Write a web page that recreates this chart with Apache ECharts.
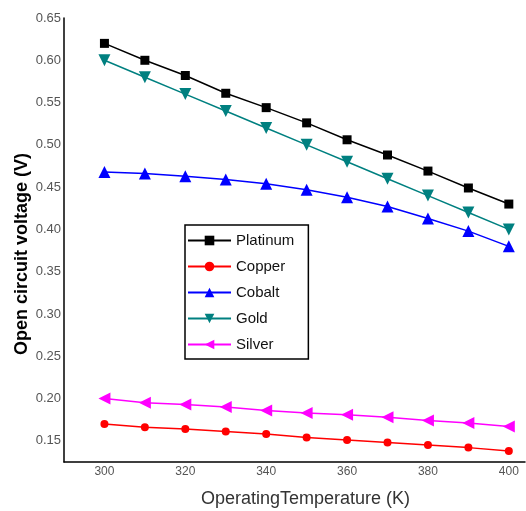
<!DOCTYPE html>
<html>
<head>
<meta charset="utf-8">
<script src="https://cdn.jsdelivr.net/npm/echarts@6/dist/echarts.min.js"></script>
<style>html,body{margin:0;padding:0;background:#fff}#c{width:526px;height:511px}</style>
</head>
<body>
<div id="c"></div>
<script>
var temperatures = [300, 310, 320, 330, 340, 350, 360, 370, 380, 390, 400];
var platinum = [0.620, 0.600, 0.582, 0.561, 0.544, 0.526, 0.506, 0.488, 0.469, 0.449, 0.430];
var copper   = [0.170, 0.166, 0.164, 0.161, 0.158, 0.154, 0.151, 0.148, 0.145, 0.142, 0.138];
var cobalt   = [0.468, 0.466, 0.463, 0.459, 0.454, 0.447, 0.438, 0.427, 0.413, 0.398, 0.380];
var gold     = [0.600, 0.580, 0.560, 0.540, 0.520, 0.500, 0.480, 0.460, 0.440, 0.420, 0.400];
var silver   = [0.200, 0.195, 0.193, 0.190, 0.186, 0.183, 0.181, 0.178, 0.174, 0.171, 0.167];
var xTickLabels = [300, 320, 340, 360, 380, 400];
var yTickLabels = ['0.15','0.20','0.25','0.30','0.35','0.40','0.45','0.50','0.55','0.60','0.65'];

function pairs(vals) { return temperatures.map(function (t, i) { return [t, vals[i]]; }); }

var chart = echarts.init(document.getElementById('c'));
function mk(name, vals, color, symbol, size, rot) {
  return {
    name: name, type: 'line', data: pairs(vals),
    symbol: symbol, symbolSize: size, symbolRotate: rot || 0,
    lineStyle: { color: color, width: 1.5 },
    itemStyle: { color: color },
    animation: false
  };
}
chart.setOption({
  animation: false,
  grid: { left: 64, right: 1, top: 18, bottom: 49, containLabel: false, outerBoundsMode: 'none' },
  xAxis: {
    type: 'value', min: 290, max: 404, interval: 10,
    name: 'OperatingTemperature (K)', nameLocation: 'middle', nameGap: 28, nameMoveOverlap: false,
    nameTextStyle: { fontSize: 18, color: '#333', fontFamily: 'Liberation Sans', padding: [0, 0, 0, 22] },
    axisLine: { lineStyle: { color: '#000', width: 1.5 } },
    axisTick: { show: false },
    splitLine: { show: false },
    axisLabel: {
      margin: 4, fontSize: 12, color: '#555', fontFamily: 'Liberation Sans',
      formatter: function (v) { return xTickLabels.indexOf(Math.round(v)) >= 0 ? String(Math.round(v)) : ''; }
    }
  },
  yAxis: {
    type: 'value', min: 0.125, max: 0.65, interval: 0.025,
    name: 'Open circuit voltage (V)', nameLocation: 'middle', nameGap: 33, nameMoveOverlap: false,
    nameTextStyle: { fontSize: 18, fontWeight: 'bold', color: '#000', fontFamily: 'Liberation Sans', padding: [0, 28, 0, 0] },
    axisLine: { show: true, lineStyle: { color: '#000', width: 1.5 } },
    axisTick: { show: false },
    splitLine: { show: false },
    axisLabel: {
      margin: 3, fontSize: 13, color: '#555', fontFamily: 'Liberation Sans',
      formatter: function (v) { var s = v.toFixed(2); return (yTickLabels.indexOf(s) >= 0 && Math.abs(v - parseFloat(s)) < 1e-6) ? s : ''; }
    }
  },
  legend: {
    orient: 'vertical', left: 185, top: 225,
    itemWidth: 43, itemHeight: 12, itemGap: 11,
    borderColor: '#000', borderWidth: 1.5, padding: [8, 14, 7, 2],
    textStyle: { fontSize: 15, color: '#111', fontFamily: 'Liberation Sans' },
    data: ['Platinum', 'Copper', 'Cobalt', 'Gold', 'Silver']
  },
  series: [
    mk('Platinum', platinum, '#000000', 'rect', 9),
    mk('Copper', copper, '#ff0000', 'circle', 8),
    mk('Cobalt', cobalt, '#0000ff', 'triangle', 12),
    mk('Gold', gold, '#008080', 'triangle', 12, 180),
    mk('Silver', silver, '#ff00ff', 'triangle', 12, 90)
  ]
});
</script>
</body>
</html>
